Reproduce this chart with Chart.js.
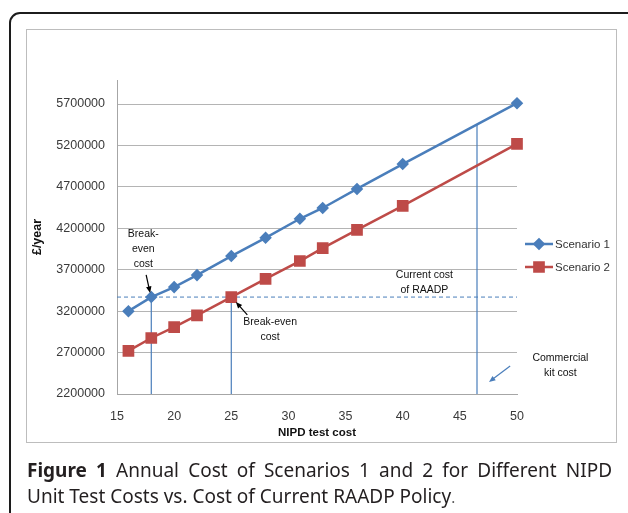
<!DOCTYPE html>
<html>
<head>
<meta charset="utf-8">
<script src="https://cdn.jsdelivr.net/npm/chart.js@4/dist/chart.umd.min.js"></script>
<style>
body { margin: 0; background: #fff; }
#page { position: relative; width: 628px; height: 513px; overflow: hidden; }
#frame { position: absolute; left: 9px; top: 12px; width: 640px; height: 520px; border: 2px solid #1c1c1c; border-radius: 11px; }
#box { position: absolute; left: 26px; top: 29px; width: 589px; height: 412px; border: 1px solid #bdbdbd; pointer-events: none; }
#wrap { position: absolute; left: 26px; top: 29px; width: 591px; height: 414px; }
#caption { position: absolute; left: 27px; top: 457px; width: 585px; font-family: "Noto Sans"; font-size: 19px; line-height: 26px; color: #231f20; white-space: nowrap; }
#caption .l1 { text-align: justify; text-align-last: justify; }
#caption b { font-weight: bold; }
</style>
</head>
<body>
<div id="page">
  <div id="frame"></div>
  <div id="wrap"><canvas id="chart" width="591" height="414"></canvas></div>
  <div id="box"></div>
  <div id="caption"><div class="l1"><b>Figure 1</b> Annual Cost of Scenarios 1 and 2 for Different NIPD</div><div>Unit Test Costs vs. Cost of Current RAADP Policy<span style="font-size:15px;color:#555">.</span></div></div>
</div>
<script>
// data
const testCost = [16, 18, 20, 22, 25, 28, 31, 33, 36, 40, 50];
const scenario1 = [3200000, 3370000, 3490000, 3635000, 3865000, 4085000, 4315000, 4445000, 4675000, 4975000, 5710000];
const scenario2 = [2720000, 2876000, 3008000, 3150000, 3370000, 3590000, 3805000, 3960000, 4180000, 4470000, 5220000];
const currentCost = 3370000;
const breakEven1 = 18;
const breakEven2 = 25;
const kitCost = 46.5;
const kitCostTop = 5450000;
const xTicks = [15, 20, 25, 30, 35, 40, 45, 50];
const yTicks = [2200000, 2700000, 3200000, 3700000, 4200000, 4700000, 5200000, 5700000];

const blue = '#4a7ebb';
const red = '#be4b48';
const tickFont = { family: 'Liberation Sans', size: 12.5 };

// notes on the plot: [x, y, lines]
const notes = [
    [17.3, 3950000, ['Break-', 'even', 'cost']],
    [28.4, 2980000, ['Break-even', 'cost']],
    [41.9, 3540000, ['Current cost', 'of RAADP']],
    [53.8, 2540000, ['Commercial', 'kit cost']]
];
// arrows: [x1, y1, x2, y2, colour]
const arrows = [
    [17.55, 3637000, 17.9, 3420000, '#000'],
    [26.4, 3154000, 25.4, 3311000, '#000'],
    [49.4, 2538000, 47.55, 2345000, blue]
];

function xy(xs, ys) { return xs.map((x, i) => ({ x: x, y: ys[i] })); }

function drawArrow(ctx, x1, y1, x2, y2, color) {
    const a = Math.atan2(y2 - y1, x2 - x1);
    ctx.save();
    ctx.strokeStyle = color; ctx.fillStyle = color; ctx.lineWidth = 1.2;
    ctx.beginPath(); ctx.moveTo(x1, y1); ctx.lineTo(x2 - 4 * Math.cos(a), y2 - 4 * Math.sin(a)); ctx.stroke();
    ctx.beginPath();
    ctx.moveTo(x2, y2);
    ctx.lineTo(x2 - 7 * Math.cos(a - 0.4), y2 - 7 * Math.sin(a - 0.4));
    ctx.lineTo(x2 - 7 * Math.cos(a + 0.4), y2 - 7 * Math.sin(a + 0.4));
    ctx.closePath(); ctx.fill();
    ctx.restore();
}

const extras = {
    id: 'extras',
    afterDatasetsDraw(chart) {
        const ctx = chart.ctx, xs = chart.scales.x, ys = chart.scales.y;
        ctx.save();
        ctx.font = '10.5px "Liberation Sans"';
        ctx.fillStyle = '#111';
        ctx.textAlign = 'center';
        ctx.textBaseline = 'middle';
        notes.forEach(n => {
            const cx = xs.getPixelForValue(n[0]), cy = ys.getPixelForValue(n[1]);
            const lh = 15, y0 = cy - (n[2].length - 1) * lh / 2;
            n[2].forEach((t, i) => ctx.fillText(t, cx, y0 + i * lh));
        });
        arrows.forEach(a => drawArrow(ctx, xs.getPixelForValue(a[0]), ys.getPixelForValue(a[1]),
            xs.getPixelForValue(a[2]), ys.getPixelForValue(a[3]), a[4]));

        // legend
        const items = [['Scenario 1', blue, 'rectRot', 4.5], ['Scenario 2', red, 'rect', 6.5]];
        ctx.font = '11.5px "Liberation Sans"';
        ctx.textAlign = 'left';
        ctx.fillStyle = '#333';
        items.forEach((it, i) => {
            const ly = 215 + i * 23, lx = 499;
            ctx.strokeStyle = it[1]; ctx.lineWidth = 2.5;
            ctx.beginPath(); ctx.moveTo(lx, ly); ctx.lineTo(lx + 28, ly); ctx.stroke();
            Chart.helpers.drawPoint(ctx, { pointStyle: it[2], radius: it[3], borderWidth: 1 }, lx + 14, ly);
            ctx.fillStyle = it[1]; ctx.fill();
            ctx.fillStyle = '#333';
            ctx.fillText(it[0], lx + 30, ly + 1);
        });
        ctx.restore();
    }
};

new Chart(document.getElementById('chart'), {
    type: 'line',
    data: {
        datasets: [
            { label: 'Scenario 1', data: xy(testCost, scenario1), borderColor: blue, backgroundColor: blue,
              borderWidth: 2.5, pointStyle: 'rectRot', pointRadius: 4.5, clip: false },
            { label: 'Scenario 2', data: xy(testCost, scenario2), borderColor: red, backgroundColor: red,
              borderWidth: 2.5, pointStyle: 'rect', pointRadius: 6.5, clip: false },
            { data: [{ x: 15, y: currentCost }, { x: 50, y: currentCost }], borderColor: blue,
              borderWidth: 1, borderDash: [4, 3], pointRadius: 0 },
            { data: [{ x: breakEven1, y: currentCost }, { x: breakEven1, y: 2200000 }], borderColor: blue,
              borderWidth: 1.2, pointRadius: 0 },
            { data: [{ x: breakEven2, y: currentCost }, { x: breakEven2, y: 2200000 }], borderColor: blue,
              borderWidth: 1.2, pointRadius: 0 },
            { data: [{ x: kitCost, y: kitCostTop }, { x: kitCost, y: 2200000 }], borderColor: blue,
              borderWidth: 1.2, pointRadius: 0 }
        ]
    },
    options: {
        responsive: false,
        animation: false,
        devicePixelRatio: 1,
        layout: { padding: { top: 51, right: 100, left: 0, bottom: 0 } },
        plugins: { legend: { display: false }, tooltip: { enabled: false } },
        scales: {
            x: {
                type: 'linear', min: 15, max: 50,
                afterBuildTicks: s => { s.ticks = xTicks.map(v => ({ value: v })); },
                afterFit: s => { s.height = 49; },
                grid: { display: false },
                border: { color: '#a6a6a6', width: 1 },
                ticks: { font: tickFont, color: '#3a3a3a', padding: 7, maxRotation: 0 },
                title: { display: true, text: 'NIPD test cost', color: '#111',
                         font: { family: 'Liberation Sans', size: 11.5, weight: 'bold' }, padding: { top: 0, bottom: 3 } }
            },
            y: {
                type: 'linear', min: 2200000, max: 5990000,
                afterBuildTicks: s => { s.ticks = yTicks.map(v => ({ value: v })); },
                afterFit: s => { s.width = 91; },
                grid: { color: '#b4b4b4', drawTicks: false },
                border: { color: '#a6a6a6', width: 1 },
                ticks: { font: tickFont, color: '#3a3a3a', padding: 12, callback: v => String(v) },
                title: { display: true, text: '£/year', color: '#111',
                         font: { family: 'Liberation Sans', size: 12.5, weight: 'bold' }, padding: { top: 4, bottom: 0 } }
            }
        }
    },
    plugins: [extras]
});
</script>
</body>
</html>
